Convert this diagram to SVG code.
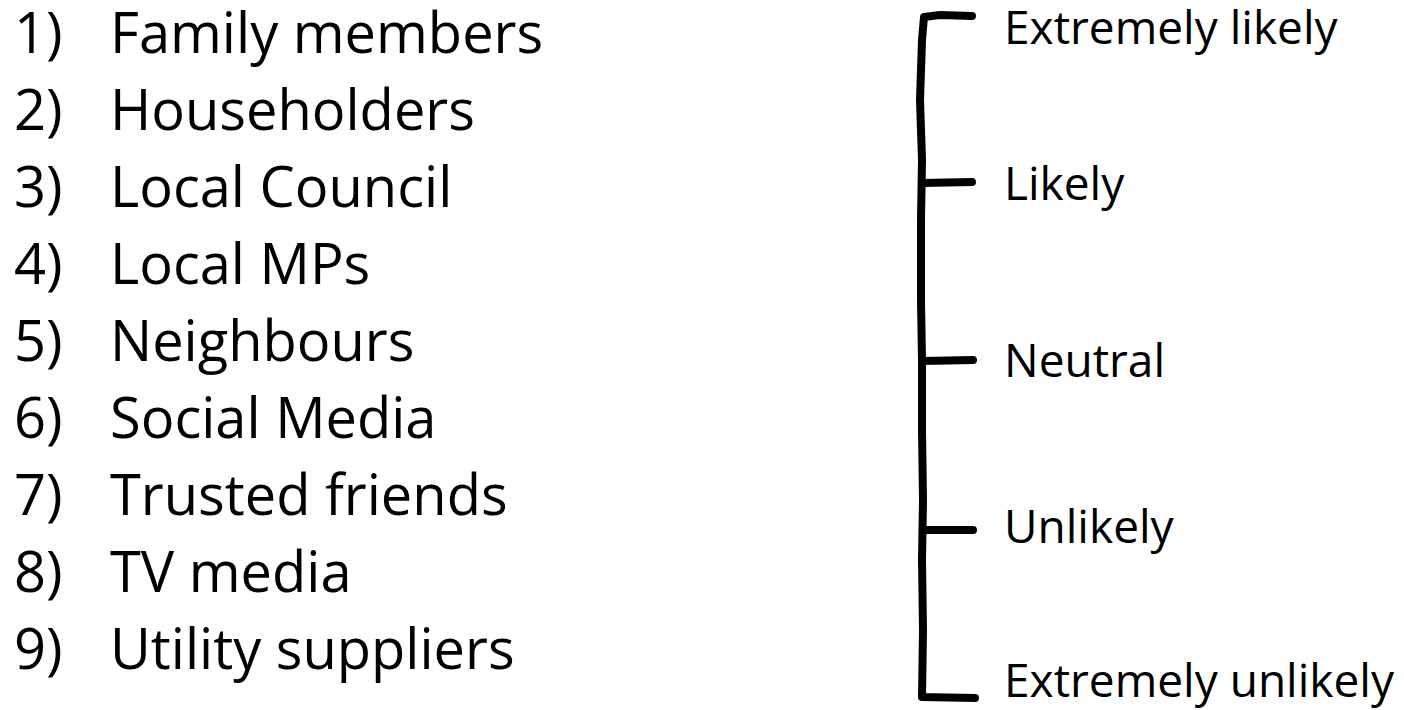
<svg xmlns="http://www.w3.org/2000/svg" width="1404" height="710" viewBox="0 0 1404 710">
<style>
.item{font-family:"Open Sans","Liberation Sans",sans-serif;font-size:56px;fill:#000}
.lab{font-family:"Open Sans","Liberation Sans",sans-serif;font-size:46px;fill:#000}
.br{fill:none;stroke:#000;stroke-width:8;stroke-linecap:round;stroke-linejoin:round}
</style>
<rect width="1404" height="710" fill="#fff"/>
<g id="list">
<g id="item1"><text class="item" x="14" y="53">1)</text><text class="item" x="110" y="53">Family members</text></g>
<g id="item2"><text class="item" x="14" y="130">2)</text><text class="item" x="110" y="130">Householders</text></g>
<g id="item3"><text class="item" x="14" y="207">3)</text><text class="item" x="110" y="207">Local Council</text></g>
<g id="item4"><text class="item" x="14" y="284">4)</text><text class="item" x="110" y="284">Local MPs</text></g>
<g id="item5"><text class="item" x="14" y="361">5)</text><text class="item" x="110" y="361">Neighbours</text></g>
<g id="item6"><text class="item" x="14" y="438">6)</text><text class="item" x="110" y="438">Social Media</text></g>
<g id="item7"><text class="item" x="14" y="515">7)</text><text class="item" x="110" y="515">Trusted friends</text></g>
<g id="item8"><text class="item" x="14" y="592">8)</text><text class="item" x="110" y="592">TV media</text></g>
<g id="item9"><text class="item" x="14" y="669">9)</text><text class="item" x="110" y="669">Utility suppliers</text></g>
</g>
<g id="connectors">
<path class="br" d="M972 16 L940 15 L924 17 L922 40 L920 100 L922 160 L921 220 L921 300 L922 360 L922 430 L923 500 L922 560 L923 630 L922 697 L975 698"/>
<path class="br" d="M922 183 L972 182"/>
<path class="br" d="M922 361 L973 360"/>
<path class="br" d="M923 530 L973 530"/>
</g>
<g id="scale">
<g id="s1"><text class="lab" x="1004" y="44">Extremely likely</text></g>
<g id="s2"><text class="lab" x="1004" y="200">Likely</text></g>
<g id="s3"><text class="lab" x="1004" y="377">Neutral</text></g>
<g id="s4"><text class="lab" x="1004" y="543">Unlikely</text></g>
<g id="s5"><text class="lab" x="1004" y="697">Extremely unlikely</text></g>
</g>
</svg>
